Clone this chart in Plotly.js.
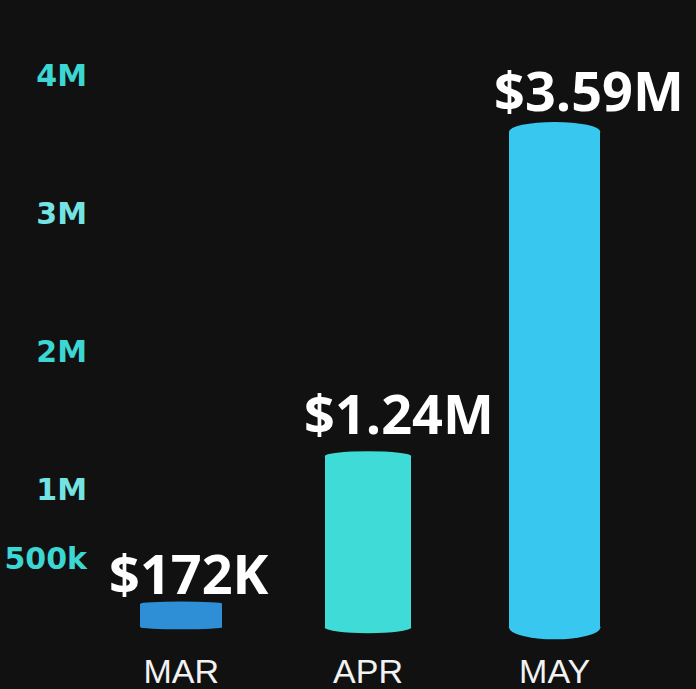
<!DOCTYPE html>
<html>
<head>
<meta charset="utf-8">
<script src="https://cdn.plot.ly/plotly-3.0.1.min.js"></script>
<style>
  html, body { margin: 0; padding: 0; background: #111111; }
  #chart { width: 696px; height: 689px; }
</style>
</head>
<body>
<div id="chart"></div>
<script>
// ---- data ----
const months = ['MAR', 'APR', 'MAY'];
const revenue = [172000, 1240000, 3590000];
const valueLabels = ['$172K', '$1.24M', '$3.59M'];
const tickValues = [500000, 1000000, 2000000, 3000000, 4000000];
const tickLabels = ['500k', '1M', '2M', '3M', '4M'];

// ---- style ----
const barColors = ['#2F8FD6', '#3FDBD6', '#38C8EF'];
const barWidths = [0.44, 0.465, 0.49];
const topCapPx = [2, 5, 10];
const bottomCapPx = [2, 6, 12];
const labelShiftX = [8, 31, 34];
const labelShiftY = [-10, -1, -7];
const tickColors = ['#3CD6D3', '#74E3E1', '#3CD6D3', '#74E3E1', '#3CD6D3'];

const trace = {
  type: 'bar',
  x: months,
  y: revenue,
  width: barWidths,
  marker: { color: barColors, line: { width: 0 } },
  hoverinfo: 'skip'
};

const shapes = [];
months.forEach((m, i) => {
  const x0 = i - barWidths[i] / 2, x1 = i + barWidths[i] / 2;
  // top cap
  shapes.push({
    type: 'circle', xref: 'x', yref: 'y', ysizemode: 'pixel',
    yanchor: revenue[i], y0: -topCapPx[i], y1: topCapPx[i],
    x0: x0, x1: x1, fillcolor: barColors[i], line: { width: 0 }
  });
  // bottom cap
  shapes.push({
    type: 'circle', xref: 'x', yref: 'y', ysizemode: 'pixel',
    yanchor: 0, y0: -bottomCapPx[i], y1: bottomCapPx[i],
    x0: x0, x1: x1, fillcolor: barColors[i], line: { width: 0 }
  });
});

const annotations = months.map((m, i) => ({
  x: i, y: revenue[i], xref: 'x', yref: 'y',
  text: valueLabels[i], showarrow: false,
  xanchor: 'center', yanchor: 'bottom',
  xshift: labelShiftX[i], yshift: topCapPx[i] + labelShiftY[i],
  font: { family: 'Open Sans, sans-serif', size: 54, color: '#ffffff', weight: 'bold' }
}));

const layout = {
  width: 696, height: 689,
  paper_bgcolor: '#111111', plot_bgcolor: '#111111',
  margin: { l: 88, r: 48, t: 27, b: 41 },
  showlegend: false,
  bargap: 0,
  xaxis: {
    type: 'category',
    range: [-0.5, 2.5],
    showgrid: false, zeroline: false, showline: false, ticks: '',
    tickfont: { family: 'Liberation Sans, Arial, sans-serif', size: 34, color: '#f2f2f2' },
    automargin: false
  },
  yaxis: {
    range: [-150000, 4350000],
    showgrid: false, zeroline: false, showline: false, ticks: '',
    tickvals: tickValues,
    ticktext: tickLabels.map((t, i) => '<span style="color:' + tickColors[i] + '">' + t + '</span>'),
    tickfont: { family: 'DejaVu Sans, sans-serif', size: 30, color: '#3CD6D3', weight: 'bold' },
    automargin: false
  },
  shapes: shapes,
  annotations: annotations
};

Plotly.newPlot('chart', [trace], layout, { staticPlot: true, displayModeBar: false });
</script>
</body>
</html>
